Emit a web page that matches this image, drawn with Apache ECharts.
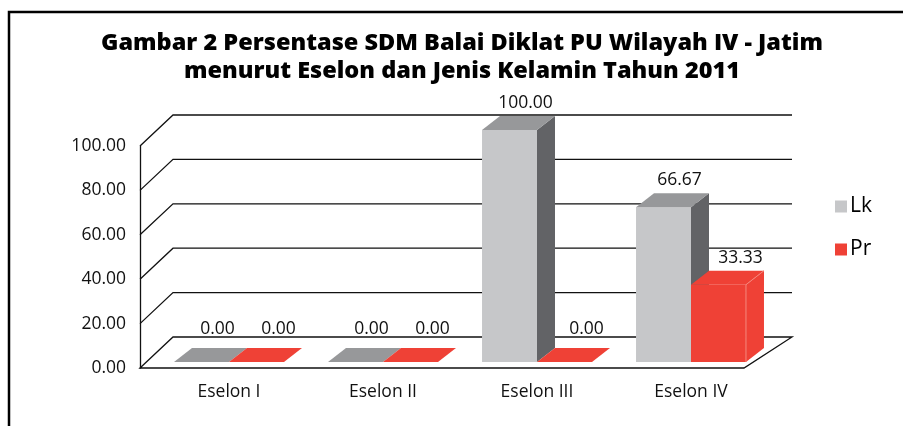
<!DOCTYPE html>
<html>
<head>
<meta charset="utf-8">
<script src="https://cdn.jsdelivr.net/npm/echarts@6/dist/echarts.min.js"></script>
<style>
  html, body { margin: 0; padding: 0; background: #ffffff; }
  #chart { width: 903px; height: 426px; }
</style>
</head>
<body>
<div id="chart"></div>
<script>
// ---- data ----
const categories = ['Eselon I', 'Eselon II', 'Eselon III', 'Eselon IV'];
const lkValues = [0, 0, 100, 66.67];
const prValues = [0, 0, 0, 33.33];
const yTicks = [0, 20, 40, 60, 80, 100];
const seriesNames = ['Lk', 'Pr'];

// ---- styling ----
const FONT = '"Open Sans", "Noto Sans", sans-serif';
// projection offsets (px) of the floor / back wall at the left and right edges
const WALL_L = [33, -31];
const WALL_R = [48, -31];
// projection offset of each bar's top and side faces
const BAR_D = [18, -14];

const palettes = {
  Lk: { front: '#C6C7C9', top: '#97989A', side: '#626366', flat: '#97989A' },
  Pr: { front: '#EF4136', top: '#EF4136', side: '#EF4136', flat: '#EF4136', edge: '#F5867C' }
};

function barRenderer(slot, pal, labelShift) {
  return function (params, api) {
    const cat = api.value(0);
    const val = api.value(1);
    const top = api.coord([cat, val]);
    const base = api.coord([cat, 0]);
    const band = api.size([1, 0])[0];
    const w = band * 0.357;
    const x0 = base[0] + (slot === 0 ? -w : 0);
    const x1 = x0 + w;
    const yb = base[1];
    const yt = top[1];
    const dx = BAR_D[0], dy = BAR_D[1];
    const children = [];
    if (val > 0) {
      children.push({
        type: 'polygon',
        shape: { points: [[x1, yb], [x1 + dx, yb + dy], [x1 + dx, yt + dy], [x1, yt]] },
        style: { fill: pal.side }
      });
      children.push({
        type: 'rect',
        shape: { x: x0, y: yt, width: w, height: yb - yt },
        style: { fill: pal.front }
      });
      children.push({
        type: 'polygon',
        shape: { points: [[x0, yt], [x1, yt], [x1 + dx, yt + dy], [x0 + dx, yt + dy]] },
        style: { fill: pal.top }
      });
      if (pal.edge) {
        children.push({
          type: 'polyline',
          shape: { points: [[x1, yb], [x1, yt], [x1 + dx, yt + dy]] },
          style: { fill: null, stroke: pal.edge, lineWidth: 1 }
        });
      }
    } else {
      children.push({
        type: 'polygon',
        shape: { points: [[x0, yb], [x1, yb], [x1 + dx, yb + dy], [x0 + dx, yb + dy]] },
        style: { fill: pal.flat }
      });
    }
    children.push({
      type: 'text',
      style: {
        text: val.toFixed(2),
        x: (x0 + x1) / 2 + labelShift,
        y: yt + dy - (val > 0 ? 13 : 19),
        align: 'center',
        verticalAlign: 'middle',
        fontSize: 17.5,
        fontFamily: FONT,
        fill: '#111111'
      }
    });
    return { type: 'group', children: children };
  };
}

// floor and back-wall gridlines, one per tick value
function wallRenderer(params, api) {
  const v = api.value(1);
  const a = api.coord([0, v]);
  const b = api.coord([1, v]);
  const la = [a[0] + WALL_L[0], a[1] + WALL_L[1]];
  const rb = [b[0] + WALL_R[0], b[1] + WALL_R[1]];
  if (v === 0) {
    return {
      type: 'polygon',
      shape: { points: [a, la, rb, b] },
      style: { fill: '#ffffff', stroke: '#111111', lineWidth: 1.3 }
    };
  }
  return {
    type: 'polyline',
    shape: { points: [a, la, rb] },
    style: { fill: null, stroke: '#111111', lineWidth: 1.3 }
  };
}

const chart = echarts.init(document.getElementById('chart'), null, { renderer: 'canvas' });

chart.setOption({
  backgroundColor: '#ffffff',
  animation: false,
  title: {
    text: 'Gambar 2 Persentase SDM Balai Diklat PU Wilayah IV - Jatim\nmenurut Eselon dan Jenis Kelamin Tahun 2011',
    left: 457,
    top: 24,
    textAlign: 'center',
    textStyle: {
      fontFamily: FONT,
      fontWeight: 800,
      fontSize: 23.5,
      lineHeight: 28,
      color: '#000000'
    }
  },
  legend: {
    orient: 'vertical',
    left: 830,
    top: 191,
    itemWidth: 12,
    itemHeight: 12,
    itemGap: 22,
    icon: 'rect',
    data: seriesNames,
    textStyle: { fontFamily: FONT, fontSize: 21, color: '#000000', padding: [0, 0, 0, -2] }
  },
  graphic: [
    {
      type: 'polyline',
      shape: { points: [[9, 430], [9, 12], [910, 12]] },
      style: { fill: null, stroke: '#000000', lineWidth: 2.5 },
      silent: true
    }
  ],
  grid: [
    { left: 140, right: 159, top: 146, bottom: 58 },
    { left: 152, right: 135, top: 130, bottom: 64 }
  ],
  xAxis: [
    { gridIndex: 0, type: 'value', min: 0, max: 1, show: false },
    {
      gridIndex: 1,
      type: 'category',
      data: categories,
      axisLine: { show: false },
      axisTick: { show: false },
      axisLabel: { margin: 21, fontFamily: FONT, fontSize: 17.5, color: '#111111' }
    }
  ],
  yAxis: [
    {
      gridIndex: 0,
      type: 'value',
      min: 0,
      max: 100,
      interval: 20,
      splitLine: { show: false },
      axisTick: { show: false },
      axisLine: { show: true, lineStyle: { color: '#111111', width: 1.3 } },
      axisLabel: {
        margin: 14,
        fontFamily: FONT,
        fontSize: 17.5,
        color: '#111111',
        formatter: function (v) { return v.toFixed(2); }
      }
    },
    { gridIndex: 1, type: 'value', min: 0, max: 100, show: false }
  ],
  series: [
    {
      type: 'custom',
      name: 'wall',
      xAxisIndex: 0,
      yAxisIndex: 0,
      z: 1,
      silent: true,
      renderItem: wallRenderer,
      data: yTicks.map(function (v) { return [0, v]; })
    },
    {
      type: 'custom',
      name: seriesNames[0],
      xAxisIndex: 1,
      yAxisIndex: 1,
      z: 3,
      itemStyle: { color: palettes.Lk.front },
      renderItem: barRenderer(0, palettes.Lk, 16),
      data: lkValues.map(function (v, i) { return [i, v]; })
    },
    {
      type: 'custom',
      name: seriesNames[1],
      xAxisIndex: 1,
      yAxisIndex: 1,
      z: 4,
      itemStyle: { color: palettes.Pr.front },
      renderItem: barRenderer(1, palettes.Pr, 22),
      data: prValues.map(function (v, i) { return [i, v]; })
    }
  ]
});
</script>
</body>
</html>
